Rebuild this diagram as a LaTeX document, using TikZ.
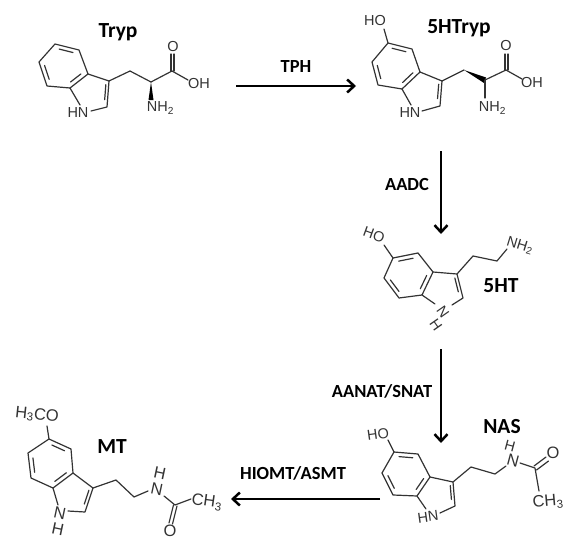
\documentclass[tikz,border=0pt]{standalone}
\usepackage{fontspec}
\setmainfont{Liberation Sans}
\newfontfamily\labelfont{Carlito}
\usetikzlibrary{calc,arrows.meta}
\definecolor{bondc}{gray}{0.2}
\tikzset{
  bond/.style={draw=bondc,line width=1.2pt,line join=round,line cap=round},
  atom/.style={text=bondc,font=\fontsize{14.5}{15}\selectfont,inner sep=0pt},
  bigatom/.style={text=bondc,font=\fontsize{16.5}{17}\selectfont,inner sep=0pt},
  molname/.style={font=\labelfont\bfseries\fontsize{21.5}{23}\selectfont,inner sep=0pt},
  enzyme/.style={font=\labelfont\bfseries\fontsize{18.5}{20}\selectfont,inner sep=0pt},
  reaction/.style={draw=black,line width=2.5pt,-{Straight Barb[length=7pt,width=13pt,line width=2.5pt]}}
}
% inner line of a double bond: ends a,b pulled toward centre c
\newcommand{\ib}[3]{\draw[bond] ($($(#1)!.14!(#2)$)!.2!(#3)$) -- ($($(#2)!.14!(#1)$)!.2!(#3)$);}
% indole skeleton with prefix #1
\newcommand{\indole}[1]{
  \coordinate (#1six) at ($(#1a)!.5!(#1d)$);
  \coordinate (#1five) at ($(#1c)!.33!(#1h)$);
  \draw[bond] (#1a)--(#1b)--(#1c)--(#1d)--(#1e)--(#1f)--cycle;
  \draw[bond] (#1c)--(#1g)--(#1h)--(#1m);
  \draw[bond] (#1d)--(#1n);
  \ib{#1a}{#1b}{#1six}
  \ib{#1e}{#1f}{#1six}
  \ib{#1c}{#1d}{#1six}
  \ib{#1g}{#1h}{#1five}
}
\begin{document}
\begin{tikzpicture}[x=1pt,y=-1pt]
\useasboundingbox (0,0) rectangle (574,554);
% ---------- Tryp
\coordinate (Ta) at (55,44);\coordinate (Tb) at (79,50);\coordinate (Tc) at (88,74);
\coordinate (Td) at (70,88);\coordinate (Te) at (47,86);\coordinate (Tf) at (39,62);
\coordinate (Tg) at (109,81);\coordinate (Th) at (107,107);\coordinate (Tn) at (80,105);\coordinate (Tm) at (91,111);
\indole{T}
\coordinate (Ti) at (130,71);\coordinate (Tj) at (151,82);\coordinate (Tk) at (172,71);
\draw[bond] (Tg)--(Ti)--(Tj)--(Tk)--(188,80);
\draw[bond] (171,71)--(171,54) (174,71)--(174,54);
\fill[black] (Tj)--(148.5,100)--(153.5,100)--cycle;
\node[atom] (TO) at (173,47) {O};
\node[atom] (TOH) at (199,84) {OH};
\node[atom] (TN) at (78,113) {HN};
\node[atom] (TNH) at (160.5,108) {NH\textsubscript{2}};
\node[molname] (Tryp) at (118,32) {Tryp};
% ---------- 5HTryp
\coordinate (Ha) at (388,43);\coordinate (Hb) at (412,49);\coordinate (Hc) at (420,72);
\coordinate (Hd) at (402,89);\coordinate (He) at (378,85);\coordinate (Hf) at (372,62);
\coordinate (Hg) at (442,81);\coordinate (Hh) at (440,106);\coordinate (Hn) at (411,105);\coordinate (Hm) at (422,111);
\indole{H}
\coordinate (Hi) at (464,70);\coordinate (Hj) at (485,80);\coordinate (Hk) at (506,70);
\draw[bond] (Ha)--(384,29);
\draw[bond] (Hg)--(Hi);
\fill[black] (Hi)--(486,77.5)--(484,83)--cycle;
\draw[bond] (Hj)--(Hk)--(522,79);
\draw[bond] (Hj)--(485,98);
\draw[bond] (505,70)--(505,54) (508,70)--(508,54);
\node[atom] (HHO) at (375,21) {HO};
\node[atom] (HO) at (506,46) {O};
\node[atom] (HOH) at (532,83) {OH};
\node[atom] (HN) at (410,113) {HN};
\node[atom] (HNH) at (492.5,108) {NH\textsubscript{2}};
\node[molname] (HTryp) at (459,28) {5HTryp};
% ---------- 5HT
\coordinate (Sa) at (393,258);\coordinate (Sb) at (418,253);\coordinate (Sc) at (433,272);
\coordinate (Sd) at (422,295);\coordinate (Se) at (399,298);\coordinate (Sf) at (384,278);
\coordinate (Sg) at (457,274);\coordinate (Sh) at (463,298);\coordinate (Sn) at (435,304);\coordinate (Sm) at (452,305);
\indole{S}
\coordinate (Si) at (473,256);\coordinate (Sj) at (497,261);
\draw[bond] (Sa)--(384,245);
\draw[bond] (Sg)--(Si)--(Sj)--(507,249);
\node[atom,rotate=-20] (SHO) at (374,235) {HO};
\node[atom,rotate=-55] (SN) at (443,312) {N};
\node[atom,rotate=-55] (SNH) at (436,325) {H};
\node[atom,rotate=-17] (SNH2) at (520,246) {NH\textsubscript{2}};
\node[molname] (HT) at (501,286) {5HT};
% ---------- NAS
\coordinate (Na) at (394,452);\coordinate (Nb) at (418,454);\coordinate (Nc) at (430,477);
\coordinate (Nd) at (417,496);\coordinate (Ne) at (393,495);\coordinate (Nf) at (382,473);
\coordinate (Ng) at (453,482);\coordinate (Nh) at (455,506);\coordinate (Nn) at (426,509);\coordinate (Nm) at (440,513);
\indole{N}
\coordinate (Ni) at (471,467);\coordinate (Nj) at (495,474);\coordinate (Nk) at (535,468);
\draw[bond] (Na)--(388,440);
\draw[bond] (Ng)--(Ni)--(Nj)--(506,466);
\draw[bond] (520,463)--(Nk)--(539,491);
\draw[bond] (534,466)--(546,457) (536.5,470)--(548.5,461);
\node[atom,rotate=8] (NHO) at (378,434) {HO};
\node[atom,rotate=8] (NN) at (428,517) {HN};
\node[bigatom,rotate=-15] (NNA) at (513,461) {N};
\node[atom,rotate=-15] (NH) at (510,446) {H};
\node[bigatom] (NO) at (553,453) {O};
\node[bigatom,rotate=5] (NCH) at (548,502) {CH\textsubscript{3}};
\node[molname] (NAS) at (502,427) {NAS};
% ---------- MT
\coordinate (Ma) at (49,439);\coordinate (Mb) at (71,449);\coordinate (Mc) at (73,473);
\coordinate (Md) at (53,488);\coordinate (Me) at (31,478);\coordinate (Mf) at (28,453);
\coordinate (Mg) at (93,488);\coordinate (Mh) at (85,512);\coordinate (Mn) at (58,505);\coordinate (Mm) at (68,511);
\indole{M}
\coordinate (Mi) at (116,480);\coordinate (Mj) at (134,497);\coordinate (Mk) at (175,505);
\draw[bond] (Ma)--(47,426);
\draw[bond] (Mg)--(Mi)--(Mj)--(148,491);
\draw[bond] (164,496)--(Mk)--(191,499);
\draw[bond] (173.5,505)--(169,523) (177,506)--(172.5,524);
\node[bigatom,rotate=-6] (MCO) at (37,415) {H\textsubscript{3}CO};
\node[bigatom,rotate=-12] (MN) at (60,513) {N};
\node[bigatom,rotate=-12] (MNH) at (58,529) {H};
\node[bigatom,rotate=-12] (MNA) at (157,489) {N};
\node[bigatom,rotate=-12] (MH) at (160,473) {H};
\node[bigatom] (MO) at (170,531) {O};
\node[bigatom,rotate=-8] (MCH) at (207,502) {CH\textsubscript{3}};
\node[molname] (MT) at (112,447) {MT};
% ---------- reactions
\coordinate (r1s) at (236,86);\coordinate (r1e) at (356,86);
\coordinate (r2s) at (441,151);\coordinate (r2e) at (441,234);
\coordinate (r3s) at (441,349);\coordinate (r3e) at (441,443);
\coordinate (r4s) at (380,499);\coordinate (r4e) at (231,499);
\draw[reaction] (r1s)--(r1e);
\draw[reaction] (r2s)--(r2e);
\draw[reaction] (r3s)--(r3e);
\draw[reaction] (r4s)--(r4e);
\node[enzyme] (TPH) at (296,67) {TPH};
\node[enzyme] (AADC) at (407,184) {AADC};
\node[enzyme] (AANAT) at (382,391) {AANAT/SNAT};
\node[enzyme] (HIOMT) at (293,473) {HIOMT/ASMT};
\end{tikzpicture}
\end{document}
